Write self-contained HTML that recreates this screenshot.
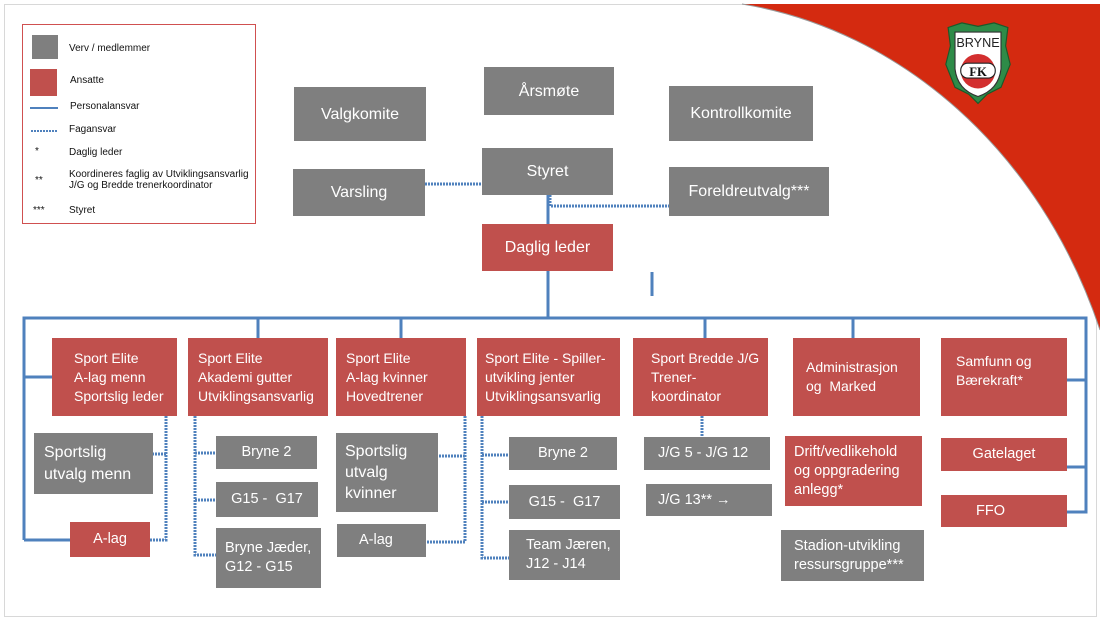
<!DOCTYPE html>
<html><head><meta charset="utf-8"><style>
body{margin:0;width:1100px;height:620px;position:relative;background:#fff;font-family:"Liberation Sans",sans-serif;overflow:hidden}
.b{position:absolute;color:#fff;box-sizing:border-box;display:flex;align-items:center;font-size:14px;line-height:19px}
.g{background:#7f7f7f}.r{background:#c0504d}
.c{justify-content:center;text-align:center}
.lg{position:absolute;font-size:10px;color:#111}
.s{font-size:14.5px}
</style></head><body>
<svg width="1100" height="620" style="position:absolute;left:0;top:0">
<rect x="4.5" y="4.5" width="1092" height="612" fill="none" stroke="#d8d8d8"/>
<path d="M742 4 C900 30 1040 150 1100 330 L1100 4 Z" fill="#d42a10"/>
<path d="M742 4 C900 30 1040 150 1100 330" fill="none" stroke="#999" stroke-width="1"/>
<rect x="22.5" y="24.5" width="233" height="199" fill="#fff" stroke="#d05050"/>
<rect x="32" y="35" width="26" height="24" fill="#7f7f7f"/>
<rect x="30" y="69" width="27" height="27" fill="#c0504d"/>
<line x1="30" y1="108" x2="58" y2="108" stroke="#4f81bd" stroke-width="2"/>
<line x1="31" y1="131" x2="58" y2="131" stroke="#4f81bd" stroke-width="2" stroke-dasharray="2 1"/>
<g fill="none" stroke="#4f81bd" stroke-width="3">
<line x1="548" y1="195" x2="548" y2="224"/>
<line x1="548" y1="271" x2="548" y2="318"/>
<line x1="652" y1="272" x2="652" y2="296"/>
<polyline points="52,377 24,377 24,318 1086,318 1086,512 1067,512"/>
<line x1="24" y1="377" x2="24" y2="540"/><line x1="24" y1="540" x2="70" y2="540"/>
<line x1="1067" y1="380" x2="1086" y2="380"/><line x1="1067" y1="467" x2="1086" y2="467"/>
<line x1="258" y1="318" x2="258" y2="338"/><line x1="401" y1="318" x2="401" y2="338"/>
<line x1="705" y1="318" x2="705" y2="338"/><line x1="853" y1="318" x2="853" y2="338"/>
</g>
<g fill="none" stroke="#4f81bd" stroke-width="3" stroke-dasharray="2 1">
<line x1="425" y1="184" x2="482" y2="184"/>
<polyline points="550,195 550,206 669,206"/>
<polyline points="166,416 166,540 150,540"/><line x1="166" y1="454" x2="153" y2="454"/>
<polyline points="195,416 195,555 216,555"/><line x1="195" y1="453" x2="216" y2="453"/><line x1="195" y1="500" x2="216" y2="500"/>
<polyline points="465,416 465,542 420,542"/><line x1="465" y1="456" x2="438" y2="456"/>
<polyline points="482,416 482,558 509,558"/><line x1="482" y1="455" x2="509" y2="455"/><line x1="482" y1="502" x2="509" y2="502"/>
<line x1="702" y1="416" x2="702" y2="437"/>
</g>
<g transform="translate(978,62) scale(1.15)">
<path d="M-26,-30 L-14,-34 0,-31 14,-34 26,-30 24,-14 28,2 20,22 8,28 0,36 -8,28 -20,22 -28,2 -24,-14Z" fill="#2e8b48" stroke="#1a5a2a"/>
<path d="M-20,-26 L20,-26 20,6 Q18,24 0,30 Q-18,24 -20,6Z" fill="#fff" stroke="#333"/>
<text x="0" y="-13" font-size="11" text-anchor="middle" fill="#222">BRYNE</text>
<circle cx="0" cy="8" r="15" fill="#d32f2f"/>
<rect x="-15" y="1" width="30" height="13" rx="6" fill="#fff" stroke="#222"/>
<text x="0" y="12" font-size="11" text-anchor="middle" font-weight="bold" font-family="Liberation Serif" fill="#111">FK</text>
</g>
</svg>
<div class="lg" style="left:69px;top:43px">Verv / medlemmer</div>
<div class="lg" style="left:70px;top:75px">Ansatte</div>
<div class="lg" style="left:70px;top:101px">Personalansvar</div>
<div class="lg" style="left:69px;top:124px">Fagansvar</div>
<div class="lg" style="left:35px;top:146px">*</div><div class="lg" style="left:69px;top:147px">Daglig leder</div>
<div class="lg" style="left:35px;top:175px">**</div><div class="lg" style="left:69px;top:169px;line-height:11px">Koordineres faglig av Utviklingsansvarlig<br>J/G og Bredde trenerkoordinator</div>
<div class="lg" style="left:33px;top:205px">***</div><div class="lg" style="left:69px;top:205px">Styret</div>

<div class="b g c" style="left:294px;top:87px;width:132px;height:54px;font-size:16px">Valgkomite</div>
<div class="b g c" style="left:484px;top:67px;width:130px;height:48px;font-size:16px">Årsmøte</div>
<div class="b g c" style="left:669px;top:86px;width:144px;height:55px;font-size:16px">Kontrollkomite</div>
<div class="b g c" style="left:482px;top:148px;width:131px;height:47px;font-size:16px">Styret</div>
<div class="b g c" style="left:293px;top:169px;width:132px;height:47px;font-size:16px">Varsling</div>
<div class="b g c" style="left:669px;top:167px;width:160px;height:49px;font-size:16px">Foreldreutvalg***</div>
<div class="b r c" style="left:482px;top:224px;width:131px;height:47px;font-size:16px">Daglig leder</div>

<div class="b r" style="left:52px;top:338px;width:125px;height:78px;padding-left:22px">Sport Elite<br>A-lag menn<br>Sportslig leder</div>
<div class="b r" style="left:188px;top:338px;width:140px;height:78px;padding-left:10px">Sport Elite<br>Akademi gutter<br>Utviklingsansvarlig</div>
<div class="b r" style="left:336px;top:338px;width:130px;height:78px;padding-left:10px">Sport Elite<br>A-lag kvinner<br>Hovedtrener</div>
<div class="b r" style="left:477px;top:338px;width:143px;height:78px;padding-left:8px">Sport Elite - Spiller-<br>utvikling jenter<br>Utviklingsansvarlig</div>
<div class="b r" style="left:633px;top:338px;width:135px;height:78px;padding-left:18px">Sport Bredde J/G<br>Trener-<br>koordinator</div>
<div class="b r" style="left:793px;top:338px;width:127px;height:78px;padding-left:13px">Administrasjon<br>og&nbsp; Marked</div>
<div class="b r" style="left:941px;top:338px;width:126px;height:78px;padding-left:15px;align-items:flex-start;padding-top:14px">Samfunn og<br>Bærekraft*</div>

<div class="b g" style="left:34px;top:433px;width:119px;height:61px;padding-left:10px;font-size:16px;line-height:22px">Sportslig<br>utvalg menn</div>
<div class="b r c s" style="left:70px;top:522px;width:80px;height:35px">A-lag</div>
<div class="b g c s" style="left:216px;top:436px;width:101px;height:33px">Bryne 2</div>
<div class="b g c s" style="left:216px;top:482px;width:102px;height:35px">G15 -&nbsp; G17</div>
<div class="b g s" style="left:216px;top:528px;width:105px;height:60px;padding-left:9px">Bryne Jæder,<br>G12 - G15</div>
<div class="b g" style="left:336px;top:433px;width:102px;height:79px;padding-left:9px;font-size:16px;line-height:21px">Sportslig<br>utvalg<br>kvinner</div>
<div class="b g s" style="left:337px;top:524px;width:89px;height:33px;padding-left:22px">A-lag</div>
<div class="b g c s" style="left:509px;top:437px;width:108px;height:33px">Bryne 2</div>
<div class="b g c s" style="left:509px;top:485px;width:111px;height:34px">G15 -&nbsp; G17</div>
<div class="b g s" style="left:509px;top:530px;width:111px;height:50px;padding-left:17px">Team Jæren,<br>J12 - J14</div>
<div class="b g s" style="left:644px;top:437px;width:126px;height:33px;padding-left:14px">J/G 5 - J/G 12</div>
<div class="b g s" style="left:646px;top:484px;width:126px;height:32px;padding-left:12px">J/G 13** →</div>
<div class="b r s" style="left:785px;top:436px;width:137px;height:70px;padding-left:9px">Drift/vedlikehold<br>og oppgradering<br>anlegg*</div>
<div class="b g s" style="left:781px;top:530px;width:143px;height:51px;padding-left:13px">Stadion-utvikling<br>ressursgruppe***</div>
<div class="b r c s" style="left:941px;top:438px;width:126px;height:33px">Gatelaget</div>
<div class="b r s" style="left:941px;top:495px;width:126px;height:32px;padding-left:35px">FFO</div>
</body></html>
